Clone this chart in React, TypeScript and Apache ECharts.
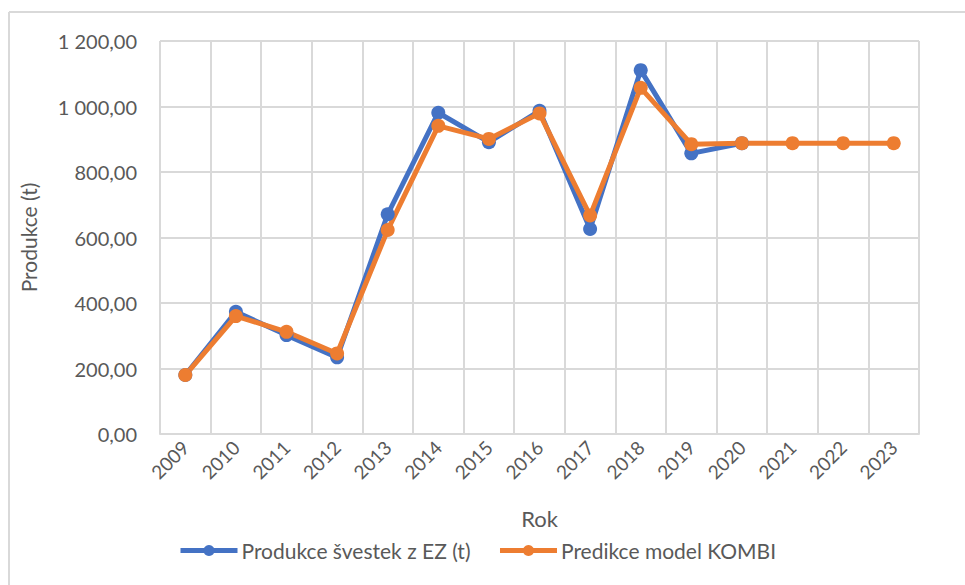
import React, { useEffect, useRef } from "react";
import * as echarts from "echarts";

const years = ["2009","2010","2011","2012","2013","2014","2015","2016","2017","2018","2019","2020","2021","2022","2023"];
const produkce = [180, 373, 302, 234, 671, 981, 891, 987, 626, 1111, 857, 888];
const predikce = [180, 360, 312, 246, 623, 941, 901, 979, 667, 1057, 885, 888, 888, 888, 888];
const seriesNames = ["Produkce švestek z EZ (t)", "Predikce model KOMBI"];

function fmt(v: number): string {
  const fixed = v.toFixed(2);
  const [int, dec] = fixed.split(".");
  const withSep = int.replace(/\B(?=(\d{3})+(?!\d))/g, " ");
  return withSep + "," + dec;
}

export default function App() {
  const ref = useRef<HTMLDivElement>(null);
  useEffect(() => {
    if (!ref.current) return;
    const chart = echarts.init(ref.current, null, { renderer: "svg" });
    const font = "Lato, 'Noto Sans', sans-serif";
    chart.setOption({
      animation: false,
      backgroundColor: "#ffffff",
      textStyle: { fontFamily: font },
      graphic: [
        { type: "line", shape: { x1: 9, y1: 12, x2: 965, y2: 12 }, style: { stroke: "#d9d9d9", lineWidth: 2 } },
        { type: "line", shape: { x1: 9, y1: 12, x2: 9, y2: 585 }, style: { stroke: "#d9d9d9", lineWidth: 2 } },
      ],
      grid: { left: 160, right: 46, top: 41, bottom: 151, containLabel: false },
      legend: {
        top: 540,
        left: 178,
        padding: 0,
        itemWidth: 57,
        itemHeight: 14,
        itemGap: 27,
        lineStyle: { width: 5 },
        textStyle: { fontSize: 21, color: "#595959", fontFamily: font, padding: [0, 0, 0, -1] },
        data: seriesNames,
      },
      xAxis: {
        type: "category",
        data: years,
        boundaryGap: true,
        name: "Rok",
        nameLocation: "middle",
        nameGap: 73,
        nameTextStyle: { fontSize: 22, color: "#595959", fontFamily: font },
        axisLine: { show: true, lineStyle: { color: "#d9d9d9", width: 2 } },
        axisTick: { show: false },
        splitLine: { show: true, lineStyle: { color: "#d9d9d9", width: 2 } },
        axisLabel: { rotate: 45, fontSize: 19, color: "#595959", margin: 10, interval: 0, fontFamily: font },
      },
      yAxis: {
        type: "value",
        min: 0,
        max: 1200,
        interval: 200,
        name: "Produkce (t)",
        nameLocation: "middle",
        nameGap: 121,
        nameTextStyle: { fontSize: 21, color: "#595959", fontFamily: font },
        axisLine: { show: false },
        axisTick: { show: false },
        splitLine: { show: true, lineStyle: { color: "#d9d9d9", width: 2 } },
        axisLabel: { fontSize: 20, color: "#595959", margin: 23, formatter: (v: number) => fmt(v), fontFamily: font },
      },
      series: [
        {
          name: seriesNames[0],
          type: "line",
          data: produkce,
          symbol: "circle",
          symbolSize: 14,
          lineStyle: { color: "#4472C4", width: 5 },
          itemStyle: { color: "#4472C4" },
        },
        {
          name: seriesNames[1],
          type: "line",
          data: predikce,
          symbol: "circle",
          symbolSize: 14,
          lineStyle: { color: "#ED7D31", width: 5 },
          itemStyle: { color: "#ED7D31" },
        },
      ],
    });
    return () => chart.dispose();
  }, []);
  return <div ref={ref} style={{ position: "fixed", left: 0, top: 0, width: 965, height: 585 }} />;
}
